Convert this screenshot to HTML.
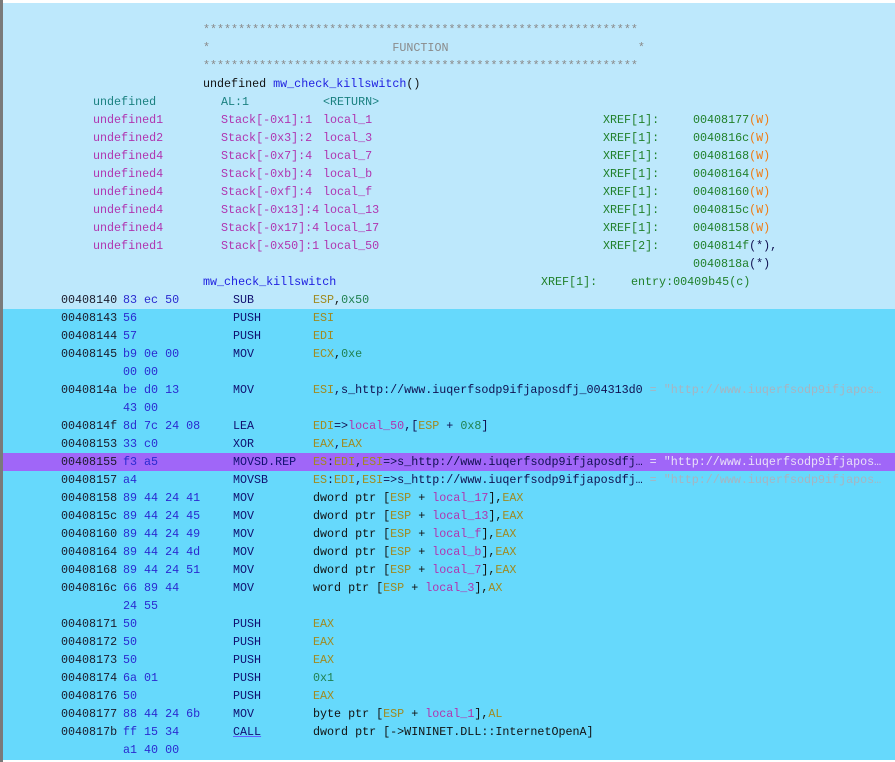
<!DOCTYPE html>
<html><head><meta charset="utf-8"><style>
html,body{margin:0;padding:0;background:#fff;}
body{width:895px;height:762px;position:relative;overflow:hidden;font-family:"Liberation Mono",monospace;font-size:11.7px;}
.bg1{position:absolute;left:3px;top:3px;width:892px;height:306px;background:#bde8fc;}
.bg2{position:absolute;left:3px;top:309px;width:892px;height:451px;background:#66d9fc;}
.sel{position:absolute;left:3px;top:453px;width:892px;height:18px;background:#a066f8;}
.lb{position:absolute;left:0;top:0;width:3px;height:762px;background:#7a7a7a;}
.r{position:absolute;height:18px;line-height:18px;white-space:pre;}
.s{position:absolute;white-space:pre;}
.st{color:#8a8a8a}.ty{color:#1a8080}.pu{color:#b035b0}.bl{color:#1e1ee0}.k{color:#111}
.gr{color:#20802a}.or{color:#f07a10}.ad{color:#1a1a2a}.by{color:#2a2ad0}.mn{color:#101070}
.rg{color:#a08a20}.nm{color:#208050}.cm{color:#a8b4c0}.ds{color:#101050}
</style></head><body>
<div class="bg1"></div><div class="bg2"></div><div class="sel"></div><div class="lb"></div>

<div class="r st" style="top:21px;left:203px">**************************************************************</div>
<div class="r st" style="top:39px;left:203px">*                          FUNCTION                           *</div>
<div class="r st" style="top:57px;left:203px">**************************************************************</div>
<div class="r" style="top:75px;left:203px"><span class="k">undefined </span><span class="bl">mw_check_killswitch</span><span class="k">()</span></div>

<div class="r" style="top:93px;left:0;width:895px"><span class="s ty" style="left:93px">undefined</span><span class="s ty" style="left:221px">AL:1</span><span class="s ty" style="left:323px">&lt;RETURN&gt;</span></div>

<div class="r" style="top:111px;left:0;width:895px"><span class="s pu" style="left:93px">undefined1</span><span class="s pu" style="left:221px">Stack[-0x1]:1</span><span class="s pu" style="left:323px">local_1</span><span class="s gr" style="left:603px">XREF[1]:</span><span class="s" style="left:693px"><span class="gr">00408177</span><span class="or">(W)</span></span></div>
<div class="r" style="top:129px;left:0;width:895px"><span class="s pu" style="left:93px">undefined2</span><span class="s pu" style="left:221px">Stack[-0x3]:2</span><span class="s pu" style="left:323px">local_3</span><span class="s gr" style="left:603px">XREF[1]:</span><span class="s" style="left:693px"><span class="gr">0040816c</span><span class="or">(W)</span></span></div>
<div class="r" style="top:147px;left:0;width:895px"><span class="s pu" style="left:93px">undefined4</span><span class="s pu" style="left:221px">Stack[-0x7]:4</span><span class="s pu" style="left:323px">local_7</span><span class="s gr" style="left:603px">XREF[1]:</span><span class="s" style="left:693px"><span class="gr">00408168</span><span class="or">(W)</span></span></div>
<div class="r" style="top:165px;left:0;width:895px"><span class="s pu" style="left:93px">undefined4</span><span class="s pu" style="left:221px">Stack[-0xb]:4</span><span class="s pu" style="left:323px">local_b</span><span class="s gr" style="left:603px">XREF[1]:</span><span class="s" style="left:693px"><span class="gr">00408164</span><span class="or">(W)</span></span></div>
<div class="r" style="top:183px;left:0;width:895px"><span class="s pu" style="left:93px">undefined4</span><span class="s pu" style="left:221px">Stack[-0xf]:4</span><span class="s pu" style="left:323px">local_f</span><span class="s gr" style="left:603px">XREF[1]:</span><span class="s" style="left:693px"><span class="gr">00408160</span><span class="or">(W)</span></span></div>
<div class="r" style="top:201px;left:0;width:895px"><span class="s pu" style="left:93px">undefined4</span><span class="s pu" style="left:221px">Stack[-0x13]:4</span><span class="s pu" style="left:323px">local_13</span><span class="s gr" style="left:603px">XREF[1]:</span><span class="s" style="left:693px"><span class="gr">0040815c</span><span class="or">(W)</span></span></div>
<div class="r" style="top:219px;left:0;width:895px"><span class="s pu" style="left:93px">undefined4</span><span class="s pu" style="left:221px">Stack[-0x17]:4</span><span class="s pu" style="left:323px">local_17</span><span class="s gr" style="left:603px">XREF[1]:</span><span class="s" style="left:693px"><span class="gr">00408158</span><span class="or">(W)</span></span></div>
<div class="r" style="top:237px;left:0;width:895px"><span class="s pu" style="left:93px">undefined1</span><span class="s pu" style="left:221px">Stack[-0x50]:1</span><span class="s pu" style="left:323px">local_50</span><span class="s gr" style="left:603px">XREF[2]:</span><span class="s" style="left:693px"><span class="gr">0040814f</span><span class="ds">(*),</span></span></div>
<div class="r" style="top:255px;left:693px"><span class="gr">0040818a</span><span class="ds">(*)</span></div>
<div class="r" style="top:273px;left:0;width:895px"><span class="s bl" style="left:203px">mw_check_killswitch</span><span class="s gr" style="left:541px">XREF[1]:</span><span class="s gr" style="left:631px">entry:00409b45(c)</span></div>

<div class="r" style="top:291px;left:0;width:895px"><span class="s ad" style="left:61px">00408140</span><span class="s by" style="left:123px">83 ec 50</span><span class="s mn" style="left:233px">SUB</span><span class="s" style="left:313px"><span class="rg">ESP</span><span class="k">,</span><span class="nm">0x50</span></span></div>
<div class="r" style="top:309px;left:0;width:895px"><span class="s ad" style="left:61px">00408143</span><span class="s by" style="left:123px">56</span><span class="s mn" style="left:233px">PUSH</span><span class="s rg" style="left:313px">ESI</span></div>
<div class="r" style="top:327px;left:0;width:895px"><span class="s ad" style="left:61px">00408144</span><span class="s by" style="left:123px">57</span><span class="s mn" style="left:233px">PUSH</span><span class="s rg" style="left:313px">EDI</span></div>
<div class="r" style="top:345px;left:0;width:895px"><span class="s ad" style="left:61px">00408145</span><span class="s by" style="left:123px">b9 0e 00</span><span class="s mn" style="left:233px">MOV</span><span class="s" style="left:313px"><span class="rg">ECX</span><span class="k">,</span><span class="nm">0xe</span></span></div>
<div class="r by" style="top:363px;left:123px">00 00</div>
<div class="r" style="top:381px;left:0;width:895px"><span class="s ad" style="left:61px">0040814a</span><span class="s by" style="left:123px">be d0 13</span><span class="s mn" style="left:233px">MOV</span><span class="s" style="left:313px"><span class="rg">ESI</span><span class="ds">,s_http://www.iuqerfsodp9ifjaposdfj_004313d0</span><span class="cm"> = "http://www.iuqerfsodp9ifjapos…</span></span></div>
<div class="r by" style="top:399px;left:123px">43 00</div>
<div class="r" style="top:417px;left:0;width:895px"><span class="s ad" style="left:61px">0040814f</span><span class="s by" style="left:123px">8d 7c 24 08</span><span class="s mn" style="left:233px">LEA</span><span class="s" style="left:313px"><span class="rg">EDI</span><span class="ds">=&gt;</span><span class="pu">local_50</span><span class="ds">,[</span><span class="rg">ESP</span><span class="ds"> + </span><span class="nm">0x8</span><span class="ds">]</span></span></div>
<div class="r" style="top:435px;left:0;width:895px"><span class="s ad" style="left:61px">00408153</span><span class="s by" style="left:123px">33 c0</span><span class="s mn" style="left:233px">XOR</span><span class="s" style="left:313px"><span class="rg">EAX</span><span class="ds">,</span><span class="rg">EAX</span></span></div>
<div class="r" style="top:453px;left:0;width:895px"><span class="s ad" style="left:61px">00408155</span><span class="s by" style="left:123px">f3 a5</span><span class="s mn" style="left:233px">MOVSD.REP</span><span class="s" style="left:313px"><span class="rg">ES</span><span class="ds">:</span><span class="rg">EDI</span><span class="ds">,</span><span class="rg">ESI</span><span class="ds">=&gt;s_http://www.iuqerfsodp9ifjaposdfj…</span><span style="color:#e8e0f8"> = "http://www.iuqerfsodp9ifjapos…</span></span></div>
<div class="r" style="top:471px;left:0;width:895px"><span class="s ad" style="left:61px">00408157</span><span class="s by" style="left:123px">a4</span><span class="s mn" style="left:233px">MOVSB</span><span class="s" style="left:313px"><span class="rg">ES</span><span class="ds">:</span><span class="rg">EDI</span><span class="ds">,</span><span class="rg">ESI</span><span class="ds">=&gt;s_http://www.iuqerfsodp9ifjaposdfj…</span><span class="cm"> = "http://www.iuqerfsodp9ifjapos…</span></span></div>
<div class="r" style="top:489px;left:0;width:895px"><span class="s ad" style="left:61px">00408158</span><span class="s by" style="left:123px">89 44 24 41</span><span class="s mn" style="left:233px">MOV</span><span class="s" style="left:313px"><span class="k">dword ptr [</span><span class="rg">ESP</span><span class="k"> + </span><span class="pu">local_17</span><span class="k">],</span><span class="rg">EAX</span></span></div>
<div class="r" style="top:507px;left:0;width:895px"><span class="s ad" style="left:61px">0040815c</span><span class="s by" style="left:123px">89 44 24 45</span><span class="s mn" style="left:233px">MOV</span><span class="s" style="left:313px"><span class="k">dword ptr [</span><span class="rg">ESP</span><span class="k"> + </span><span class="pu">local_13</span><span class="k">],</span><span class="rg">EAX</span></span></div>
<div class="r" style="top:525px;left:0;width:895px"><span class="s ad" style="left:61px">00408160</span><span class="s by" style="left:123px">89 44 24 49</span><span class="s mn" style="left:233px">MOV</span><span class="s" style="left:313px"><span class="k">dword ptr [</span><span class="rg">ESP</span><span class="k"> + </span><span class="pu">local_f</span><span class="k">],</span><span class="rg">EAX</span></span></div>
<div class="r" style="top:543px;left:0;width:895px"><span class="s ad" style="left:61px">00408164</span><span class="s by" style="left:123px">89 44 24 4d</span><span class="s mn" style="left:233px">MOV</span><span class="s" style="left:313px"><span class="k">dword ptr [</span><span class="rg">ESP</span><span class="k"> + </span><span class="pu">local_b</span><span class="k">],</span><span class="rg">EAX</span></span></div>
<div class="r" style="top:561px;left:0;width:895px"><span class="s ad" style="left:61px">00408168</span><span class="s by" style="left:123px">89 44 24 51</span><span class="s mn" style="left:233px">MOV</span><span class="s" style="left:313px"><span class="k">dword ptr [</span><span class="rg">ESP</span><span class="k"> + </span><span class="pu">local_7</span><span class="k">],</span><span class="rg">EAX</span></span></div>
<div class="r" style="top:579px;left:0;width:895px"><span class="s ad" style="left:61px">0040816c</span><span class="s by" style="left:123px">66 89 44</span><span class="s mn" style="left:233px">MOV</span><span class="s" style="left:313px"><span class="k">word ptr [</span><span class="rg">ESP</span><span class="k"> + </span><span class="pu">local_3</span><span class="k">],</span><span class="rg">AX</span></span></div>
<div class="r by" style="top:597px;left:123px">24 55</div>
<div class="r" style="top:615px;left:0;width:895px"><span class="s ad" style="left:61px">00408171</span><span class="s by" style="left:123px">50</span><span class="s mn" style="left:233px">PUSH</span><span class="s rg" style="left:313px">EAX</span></div>
<div class="r" style="top:633px;left:0;width:895px"><span class="s ad" style="left:61px">00408172</span><span class="s by" style="left:123px">50</span><span class="s mn" style="left:233px">PUSH</span><span class="s rg" style="left:313px">EAX</span></div>
<div class="r" style="top:651px;left:0;width:895px"><span class="s ad" style="left:61px">00408173</span><span class="s by" style="left:123px">50</span><span class="s mn" style="left:233px">PUSH</span><span class="s rg" style="left:313px">EAX</span></div>
<div class="r" style="top:669px;left:0;width:895px"><span class="s ad" style="left:61px">00408174</span><span class="s by" style="left:123px">6a 01</span><span class="s mn" style="left:233px">PUSH</span><span class="s nm" style="left:313px">0x1</span></div>
<div class="r" style="top:687px;left:0;width:895px"><span class="s ad" style="left:61px">00408176</span><span class="s by" style="left:123px">50</span><span class="s mn" style="left:233px">PUSH</span><span class="s rg" style="left:313px">EAX</span></div>
<div class="r" style="top:705px;left:0;width:895px"><span class="s ad" style="left:61px">00408177</span><span class="s by" style="left:123px">88 44 24 6b</span><span class="s mn" style="left:233px">MOV</span><span class="s" style="left:313px"><span class="k">byte ptr [</span><span class="rg">ESP</span><span class="k"> + </span><span class="pu">local_1</span><span class="k">],</span><span class="rg">AL</span></span></div>
<div class="r" style="top:723px;left:0;width:895px"><span class="s ad" style="left:61px">0040817b</span><span class="s by" style="left:123px">ff 15 34</span><span class="s mn" style="left:233px;text-decoration:underline;text-decoration-color:#6060ff">CALL</span><span class="s k" style="left:313px">dword ptr [-&gt;WININET.DLL::InternetOpenA]</span></div>
<div class="r by" style="top:741px;left:123px">a1 40 00</div>
</body></html>
